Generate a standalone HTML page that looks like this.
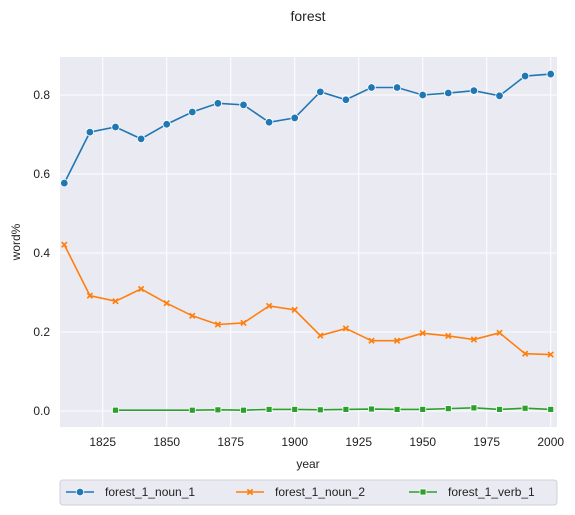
<!DOCTYPE html>
<html><head><meta charset="utf-8"><style>
body{margin:0;background:#fff;font-family:"Liberation Sans",Arial,sans-serif}
</style></head><body>
<svg id="c" width="575" height="515" style="display:block">
<text x="308" y="21" font-size="14" text-anchor="middle" fill="#222">forest</text>
<rect x="60" y="57" width="497" height="370" fill="#eaeaf2"/>
<g id="grid"></g><g id="series"></g><g id="ticks"></g>
<text x="308" y="468" font-size="12" text-anchor="middle" fill="#222">year</text>
<text transform="translate(20,242) rotate(-90)" font-size="12" text-anchor="middle" fill="#222">word%</text>
<rect x="60" y="480" width="497" height="25" rx="3" fill="#eaeaf2" stroke="#d0d0d8"/>
<g id="legend"></g>
</svg>
<script>
const years=[1810,1820,1830,1840,1850,1860,1870,1880,1890,1900,1910,1920,1930,1940,1950,1960,1970,1980,1990,2000];
const noun1=[.577,.706,.719,.689,.726,.757,.779,.775,.731,.742,.808,.788,.819,.819,.800,.805,.811,.798,.848,.853];
const noun2=[.421,.292,.278,.309,.273,.241,.219,.223,.266,.256,.191,.209,.178,.178,.197,.190,.181,.198,.145,.143];
const verbYears=[1830,1860,1870,1880,1890,1900,1910,1920,1930,1940,1950,1960,1970,1980,1990,2000];
const verb1=[.002,.002,.003,.002,.004,.004,.003,.004,.005,.004,.004,.006,.008,.004,.007,.004];
const xTicks=[1825,1850,1875,1900,1925,1950,1975,2000];
const yTicks=[0,0.2,0.4,0.6,0.8];
const NS="http://www.w3.org/2000/svg";
const X=v=>102.7+(v-1825)*2.56, Y=v=>411-v*395;
function mk(t,a,p){const e=document.createElementNS(NS,t);for(const k in a)e.setAttribute(k,a[k]);document.getElementById(p).appendChild(e);return e;}
xTicks.forEach(t=>{const l=mk('line',{x1:X(t),x2:X(t),y1:57,y2:427,stroke:'#fff','stroke-width':1},'grid');


const tx=mk('text',{x:X(t),y:446,'font-size':12,'text-anchor':'middle',fill:'#222'},'ticks');tx.textContent=t;

});
yTicks.forEach(t=>{const l=mk('line',{x1:60,x2:557,y1:Y(t),y2:Y(t),stroke:'#fff','stroke-width':1},'grid');


const tx=mk('text',{x:50,y:Y(t)+4,'font-size':12,'text-anchor':'end',fill:'#222'},'ticks');tx.textContent=t.toFixed(1);

});
function marker(kind,x,y,c,p){
 if(kind==='o')return mk('circle',{cx:x,cy:y,r:3.8,fill:c,stroke:'#fff','stroke-width':.8},p);
 if(kind==='s')return mk('rect',{x:x-3,y:y-3,width:6,height:6,fill:c,stroke:'#fff','stroke-width':.8},p);
 return mk('path',{d:`M${x-2.6},${y-2.6}L${x+2.6},${y+2.6}M${x+2.6},${y-2.6}L${x-2.6},${y+2.6}`,stroke:c,'stroke-width':1.7},p);}
const S=[[years,noun1,'#1f77b4','o','forest_1_noun_1'],[years,noun2,'#ff7f0e','x','forest_1_noun_2'],[verbYears,verb1,'#2ca02c','s','forest_1_verb_1']];
S.forEach(([xs,ys,c,m,n])=>{
 const pl=mk('polyline',{points:xs.map((x,i)=>X(x)+','+Y(ys[i])).join(' '),fill:'none',stroke:c,'stroke-width':1.6},'series');
 
 
 xs.forEach((x,i)=>{const e=marker(m,X(x),Y(ys[i]),c,'series');
 
 });});
const lx=[66,236,409];
S.forEach(([xs,ys,c,m,n],i)=>{const x=lx[i],y=492;
 const l=mk('line',{x1:x,x2:x+28,y1:y,y2:y,stroke:c,'stroke-width':1.6},'legend');
 
 
 marker(m,x+14,y,c,'legend');
 const t=mk('text',{x:x+39,y:y+4,'font-size':12,fill:'#222'},'legend');t.textContent=n;
 
 });
</script>
</body></html>
